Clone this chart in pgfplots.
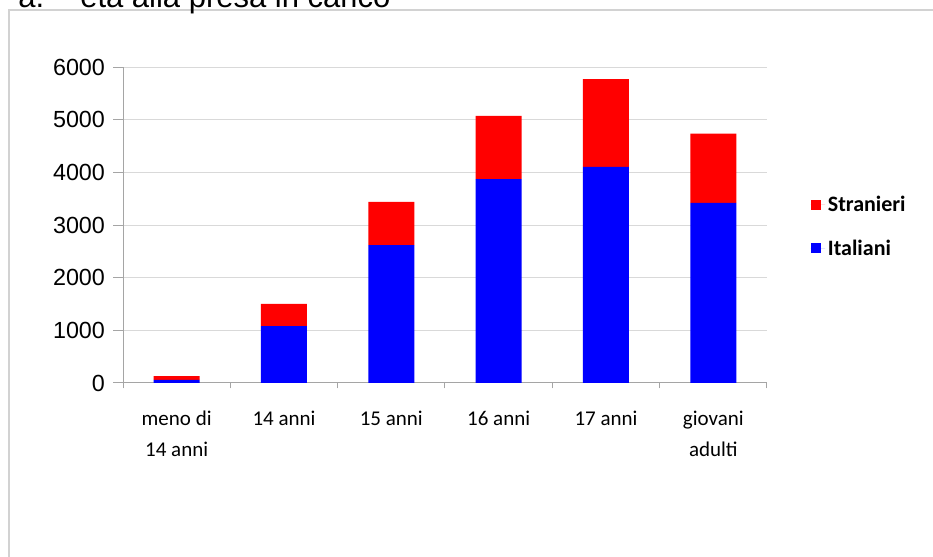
\documentclass[border=0pt]{standalone}
\usepackage{pgfplots}
\pgfplotsset{compat=1.18}
\usepackage{fontspec}
\setmainfont{Carlito}
\newfontfamily\arial{Liberation Sans}
\definecolor{gridc}{RGB}{217,217,217}
\definecolor{axc}{RGB}{165,165,165}
\definecolor{boxc}{RGB}{210,210,210}

\begin{document}
\begin{tikzpicture}[x=1pt,y=1pt]
\useasboundingbox (0,0) rectangle (699.75,417.75);
\draw[boxc, line width=0.9pt] (6.75,-5) -- (6.75,410.25) -- (710,410.25);
\node[anchor=base west, inner sep=0, font=\arial\fontsize{23.25}{28}\selectfont] at (13.5,411.75) {a.};
\node[anchor=base west, inner sep=0, font=\arial\fontsize{23.25}{28}\selectfont] at (60,411.75) {età alla presa in carico};
\begin{axis}[
  at={(92.25pt,130.5pt)}, anchor=south west,
  scale only axis, width=483pt, height=237pt,
  xmin=-0.5, xmax=5.5, ymin=0, ymax=6000,
  ybar stacked, bar width=34.5pt,
  axis lines*=left,
  axis line style={draw=axc, line width=0.75pt},
  ymajorgrids, grid style={draw=gridc, line width=0.75pt},
  ytick={0,1000,...,6000},
  scaled y ticks=false,
  /pgf/number format/1000 sep={},
  /pgf/number format/assume math mode=true,
  yticklabel style={font=\arial\fontsize{17.5}{20}\selectfont, xshift=-2.5pt},
  xtick={0,...,5},
  xticklabels={meno di\\14 anni, 14 anni, 15 anni, 16 anni, 17 anni, giovani\\adulti},
  xticklabel style={align=center, font=\fontsize{15.75}{23.5}\selectfont, yshift=-10pt},
  minor xtick={-0.5,0.5,...,5.5},
  tick align=outside,
  major tick length=7.5pt,
  minor tick length=4pt,
  major x tick style={draw=none},
  minor x tick style={draw=axc, line width=0.75pt},
  ytick style={draw=axc, line width=0.75pt},
  reverse legend,
  legend cell align=left,
  legend style={at={(rel axis cs:1.061,0.495)}, anchor=west, draw=none, fill=none,
    font=\bfseries\fontsize{16.5}{19}\selectfont, row sep=15.5pt},
  legend image code/.code={\fill[#1] (0pt,-3.75pt) rectangle (7.5pt,3.75pt);
    \path (0pt,0pt) -- (11pt,0pt);},
]
\addplot[fill=blue, draw=none] coordinates {(0,60) (1,1080) (2,2620) (3,3870) (4,4105) (5,3420)};
\addlegendentry{Italiani}
\addplot[fill=red, draw=none] coordinates {(0,70) (1,420) (2,820) (3,1200) (4,1665) (5,1315)};
\addlegendentry{Stranieri}
\end{axis}
\end{tikzpicture}
\end{document}
